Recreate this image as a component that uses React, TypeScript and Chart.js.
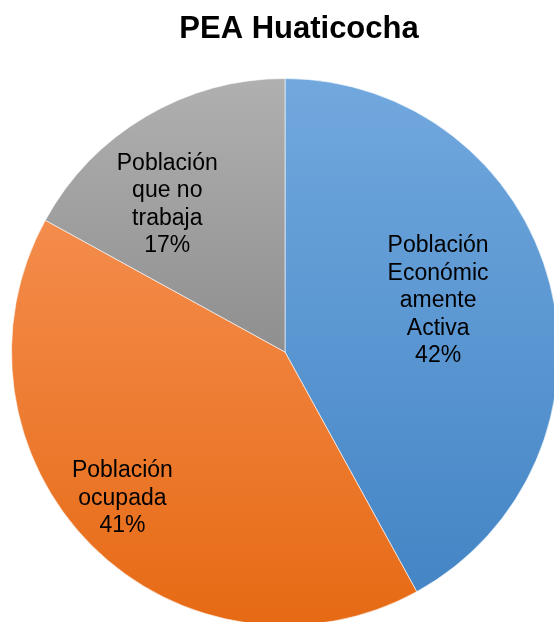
import React, { useEffect, useRef } from "react";
import { Chart, registerables } from "chart.js";

Chart.register(...registerables);

const categories = ["Población Económicamente Activa", "Población ocupada", "Población que no trabaja"];
const labelLines = [
  ["Población", "Económic", "amente", "Activa"],
  ["Población", "ocupada"],
  ["Población", "que no", "trabaja"],
];
const values = [42, 41, 17];
const percentLabels = ["42%", "41%", "17%"];
const chartTitle = "PEA Huaticocha";

const gradientStops = [
  ["#71a8de", "#4485c5"],
  ["#f48c4c", "#e66a14"],
  ["#b0b0b0", "#8f8f8f"],
];
// label placement: [angle offset in degrees, radius fraction]
const labelPlacement = [
  [-4, 0.59],
  [3, 0.8],
  [-8, 0.69],
];

const labelPlugin = {
  id: "sliceLabels",
  afterDatasetsDraw(chart: any) {
    const ctx = chart.ctx;
    const meta = chart.getDatasetMeta(0);
    ctx.save();
    ctx.font = '23px "Liberation Sans", Arial, sans-serif';
    ctx.fillStyle = "#000";
    ctx.textAlign = "center";
    ctx.textBaseline = "middle";
    meta.data.forEach((arc: any, i: number) => {
      const p = arc.getProps(["x", "y", "startAngle", "endAngle", "outerRadius"], true);
      const mid = (p.startAngle + p.endAngle) / 2 + (labelPlacement[i][0] * Math.PI) / 180;
      const r = p.outerRadius * labelPlacement[i][1];
      const cx = p.x + Math.cos(mid) * r;
      const cy = p.y + Math.sin(mid) * r;
      const lines = [...labelLines[i], percentLabels[i]];
      const lh = 27.5;
      const y0 = cy - ((lines.length - 1) * lh) / 2;
      lines.forEach((t, k) => ctx.fillText(t, cx, y0 + k * lh));
    });
    ctx.restore();
  },
};

const titlePlugin = {
  id: "customTitle",
  afterDraw(chart: any) {
    const ctx = chart.ctx;
    ctx.save();
    ctx.font = 'bold 31px "Liberation Sans", Arial, sans-serif';
    ctx.fillStyle = "#000";
    ctx.textAlign = "center";
    ctx.textBaseline = "middle";
    ctx.fillText(chartTitle, 299, 29);
    ctx.restore();
  },
};

export default function App() {
  const ref = useRef<HTMLCanvasElement>(null);
  useEffect(() => {
    document.body.style.margin = "0";
    document.body.style.overflow = "hidden";
    document.documentElement.style.overflow = "hidden";
    const canvas = ref.current!;
    const total = values.reduce((a, b) => a + b, 0);
    const makeGradient = (context: any) => {
      const chart = context.chart;
      const i = context.dataIndex;
      const area = chart.chartArea;
      if (!area) return gradientStops[i][0];
      const cx = (area.left + area.right) / 2;
      const cy = (area.top + area.bottom) / 2;
      const R = Math.min(area.right - area.left, area.bottom - area.top) / 2;
      let before = 0;
      for (let k = 0; k < i; k++) before += values[k];
      const a0 = -Math.PI / 2 + (before / total) * Math.PI * 2;
      const a1 = a0 + (values[i] / total) * Math.PI * 2;
      const pts: number[] = [cy];
      const steps = 90;
      for (let s = 0; s <= steps; s++) {
        const a = a0 + ((a1 - a0) * s) / steps;
        pts.push(cy + Math.sin(a) * R);
      }
      const top = Math.min(...pts);
      const bottom = Math.max(...pts);
      const g = chart.ctx.createLinearGradient(cx, top, cx, bottom);
      g.addColorStop(0, gradientStops[i][0]);
      g.addColorStop(1, gradientStops[i][1]);
      return g;
    };
    const chart = new Chart(canvas, {
      type: "pie",
      data: {
        labels: categories,
        datasets: [
          {
            data: values,
            backgroundColor: makeGradient,
            borderColor: "rgba(255,255,255,0.6)",
            borderWidth: 1,
          },
        ],
      },
      options: {
        responsive: false,
        animation: false,
        layout: { padding: { top: 78, left: 11, right: 21, bottom: 14 } },
        plugins: {
          legend: { display: false },
          title: { display: false },
          tooltip: { enabled: false },
        },
      },
      plugins: [labelPlugin, titlePlugin],
    });
    return () => chart.destroy();
  }, []);
  return (
    <canvas
      ref={ref}
      width={580}
      height={640}
      style={{ position: "absolute", left: 0, top: 0, width: 580, height: 640 }}
    />
  );
}
